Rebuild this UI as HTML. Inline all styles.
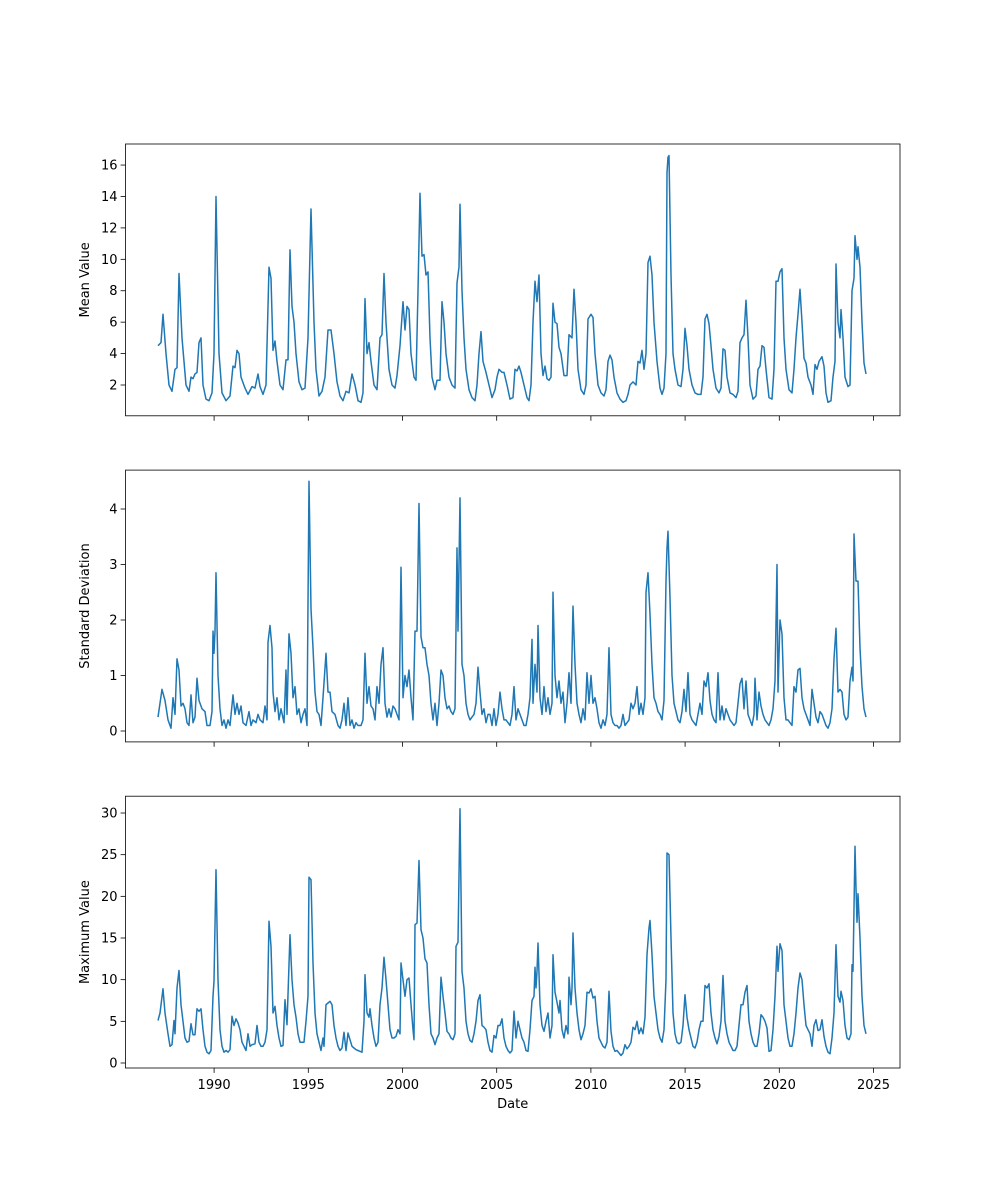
<!DOCTYPE html>
<html><head><meta charset="utf-8"><style>
html,body{margin:0;padding:0;background:#fff;}
svg{display:block;font-family:"DejaVu Sans","Liberation Sans",sans-serif;}
</style></head><body>
<svg id="s" width="1000" height="1200" xmlns="http://www.w3.org/2000/svg"></svg>
<script>
const A=[158,4.5,161,4.7,163,6.5,166,4,169,2,172,1.6,175,3,177,3.1,179,9.1,182,5,186,2,189,1.6,191,2.5,193,2.4,195,2.7,197,2.8,199,4.7,201,5,203,2,206,1.1,209,1,212,1.5,214,4,216,14,219,4,222,1.5,226,1,230,1.3,233,3.2,235,3.1,237,4.2,239,4,241,2.5,245,1.8,248,1.4,252,1.9,255,1.8,258,2.7,260,1.9,263,1.4,266,2,269,9.5,271,8.8,273,4.2,275,4.8,277,3.5,280,2,283,1.7,286,3.6,288,3.6,290,10.6,292,7,294,6,296,4,299,2.2,302,1.7,305,1.8,308,5,311,13.2,314,6,316,3,319,1.3,322,1.6,325,2.5,328,5.5,331,5.5,334,4,337,2.2,340,1.3,343,1,346,1.6,349,1.5,352,2.7,355,2,358,1,361,0.9,363,1.5,365,7.5,367,4,369,4.7,371,3.5,374,2,377,1.7,380,5,382,5.2,384,9.1,386,6,389,3,392,2,395,1.8,397,2.6,400,4.5,403,7.3,405,5.5,407,7,409,6.8,411,4,414,2.5,416,2.3,418,8,420,14.2,422,10.2,424,10.3,426,9,428,9.2,430,5,432,2.5,435,1.7,437,2.3,440,2.3,442,7.3,444,6,446,4,449,2.5,452,2,455,1.8,457,8.5,459,9.5,460,13.5,462,8,464,5,466,3,469,1.7,472,1.2,475,1,477,2,479,4,481,5.4,483,3.5,486,2.8,489,2,492,1.2,495,1.7,497,2.5,499,3,502,2.8,504,2.8,507,2,510,1.1,513,1.2,515,3,517,2.9,519,3.2,521,2.8,524,2,527,1.2,529,1,531,2,533,6,535,8.6,537,7.3,539,9,541,4,543,2.6,545,3.2,547,2.4,549,2.3,551,2.5,553,7.2,555,6,557,5.9,559,4.4,561,4,564,2.6,567,2.6,569,5.2,572,5,574,8.1,576,6,578,3,581,1.7,584,1.4,586,2,588,6.2,591,6.5,593,6.3,595,4,598,2,601,1.5,604,1.3,606,1.7,608,3.5,610,3.9,612,3.6,614,2.5,617,1.5,620,1.1,623,0.9,626,1,628,1.4,630,2,633,2.2,636,2,638,3.5,640,3.4,642,4.2,644,3,646,4,648,9.8,650,10.2,652,9,654,6,657,3.5,660,1.8,662,1.4,664,1.8,666,4,667,15.5,668,16.5,669,16.6,671,9,673,4,675,3,678,2,681,1.9,683,3,685,5.6,687,4.5,689,3,692,2,695,1.5,698,1.4,701,1.4,703,2.5,705,6.2,707,6.5,709,5.9,711,4.5,713,3,716,1.8,719,1.5,721,1.8,723,4.3,725,4.2,727,2.5,730,1.5,733,1.4,736,1.2,738,1.6,740,4.7,742,5,744,5.2,746,7.4,748,5,750,2,753,1.1,756,1.3,758,3,760,3.2,762,4.5,764,4.4,766,3,769,1.2,772,1.1,774,3,776,8.6,778,8.6,780,9.2,782,9.4,784,5,786,3,789,1.7,792,1.5,794,3,796,5,798,6.5,800,8.1,802,6,804,3.7,806,3.4,808,2.5,811,2,813,1.4,815,3.3,817,3,819,3.5,822,3.8,824,3.2,826,1.5,828,0.9,831,1,833,2.5,835,3.5,836,9.7,838,6,840,5,841,6.8,843,5,845,2.5,848,1.9,850,2,852,8,854,8.8,855,11.5,857,10,858,10.8,860,9.5,862,6,864,3.4,866,2.7];
const B=[158,0.25,162,0.75,165,0.55,168,0.2,171,0.05,173,0.6,175,0.3,177,1.3,179,1.1,181,0.45,183,0.5,185,0.4,187,0.15,189,0.1,191,0.65,193,0.15,195,0.25,197,0.95,199,0.55,202,0.4,205,0.35,207,0.1,210,0.1,212,0.35,213,1.8,214,1.4,215,1.8,216,2.85,218,1.0,220,0.4,222,0.1,224,0.2,226,0.05,228,0.2,230,0.1,233,0.65,235,0.3,237,0.5,239,0.3,241,0.45,243,0.15,246,0.1,249,0.35,251,0.1,253,0.2,256,0.15,258,0.3,260,0.2,263,0.15,265,0.45,267,0.2,268,1.6,270,1.9,272,1.5,273,0.7,275,0.35,277,0.6,279,0.2,281,0.4,284,0.15,286,1.1,287,0.3,289,1.75,291,1.4,293,0.6,295,0.8,297,0.3,299,0.4,301,0.15,303,0.3,305,0.4,307,0.1,309,4.5,311,2.2,313,1.5,315,0.7,317,0.35,319,0.3,321,0.1,323,0.6,326,1.4,328,0.7,330,0.7,332,0.35,335,0.3,338,0.1,340,0.05,342,0.2,344,0.5,346,0.1,348,0.6,350,0.1,352,0.2,354,0.05,356,0.15,358,0.1,361,0.1,363,0.2,365,1.4,367,0.5,369,0.8,371,0.45,373,0.4,375,0.2,377,0.8,379,0.5,381,1.2,383,1.5,385,0.5,387,0.25,389,0.4,391,0.25,393,0.45,395,0.4,397,0.3,399,0.2,401,2.95,403,0.6,405,1.0,407,0.8,409,1.1,411,0.6,413,0.2,415,1.8,417,1.8,419,4.1,421,1.7,423,1.5,425,1.5,427,1.2,429,1.0,431,0.5,433,0.2,435,0.5,437,0.1,439,0.5,441,1.1,443,1.0,445,0.6,447,0.4,449,0.45,451,0.35,453,0.3,455,0.4,457,3.3,458,1.8,460,4.2,462,1.2,464,1.0,466,0.5,468,0.3,470,0.2,472,0.25,474,0.3,476,0.5,478,1.15,480,0.7,482,0.3,484,0.4,486,0.15,488,0.3,490,0.3,492,0.1,494,0.4,496,0.1,498,0.3,500,0.7,502,0.4,504,0.2,506,0.2,508,0.15,510,0.1,512,0.3,514,0.8,516,0.2,518,0.4,520,0.3,522,0.2,524,0.1,526,0.1,528,0.3,530,0.6,532,1.65,533,0.5,535,1.2,537,0.7,538,1.9,540,0.6,542,0.3,544,0.8,546,0.35,548,0.6,550,0.3,552,0.5,553,2.5,555,1.0,557,0.6,559,0.9,561,0.5,563,0.7,565,0.15,567,0.5,569,1.05,571,0.5,573,2.25,575,1.2,577,0.5,579,0.3,581,0.15,583,0.4,585,0.2,587,1.05,589,0.5,591,1.0,593,0.5,595,0.6,597,0.4,599,0.15,601,0.05,603,0.2,605,0.1,607,0.3,609,1.5,611,0.3,613,0.15,615,0.1,617,0.1,619,0.05,621,0.1,623,0.3,625,0.1,627,0.15,629,0.2,631,0.5,633,0.4,635,0.5,637,0.8,639,0.3,641,0.5,643,0.3,645,0.6,646,2.5,648,2.85,650,2.1,652,1.2,654,0.6,656,0.5,658,0.35,660,0.3,662,0.2,664,0.55,666,2.7,667,3.3,668,3.6,670,2.4,672,1.0,674,0.5,676,0.35,678,0.2,680,0.15,682,0.35,684,0.75,686,0.35,688,1.05,690,0.3,692,0.2,694,0.15,696,0.1,698,0.3,700,0.5,702,0.3,704,0.9,706,0.8,708,1.05,710,0.55,712,0.3,714,0.2,716,0.15,718,1.05,720,0.2,722,0.45,724,0.2,726,0.4,728,0.3,730,0.2,732,0.15,734,0.1,736,0.15,738,0.5,740,0.85,742,0.95,744,0.4,746,0.9,748,0.3,750,0.2,752,0.1,754,0.3,755,0.95,757,0.2,759,0.7,761,0.45,763,0.3,765,0.2,767,0.15,769,0.1,771,0.2,773,0.4,775,0.9,777,3.0,778,0.7,780,2.0,782,1.75,784,0.6,786,0.2,788,0.2,790,0.15,792,0.1,794,0.8,796,0.7,798,1.1,800,1.13,802,0.6,804,0.4,806,0.3,808,0.2,810,0.1,812,0.75,814,0.5,816,0.25,818,0.15,820,0.35,822,0.3,824,0.2,826,0.1,828,0.05,830,0.15,832,0.4,834,1.3,836,1.85,838,0.7,840,0.75,842,0.7,844,0.3,846,0.2,848,0.25,850,0.9,852,1.15,853,0.9,854,3.55,856,2.7,858,2.7,860,1.5,862,0.8,864,0.4,866,0.25];
const C=[158,5.1,160,6,163,8.9,165,6,168,3.5,170,2,172,2.2,174,5.1,175,3.5,177,9,179,11.1,181,7,183,5,185,3,187,2.5,189,2.6,191,4.7,193,3.4,195,3.4,197,6.5,199,6.2,201,6.5,203,4,205,2,207,1.3,209,1.1,211,1.5,213,8,214,9.8,216,23.2,218,10,220,4,222,2,224,1.3,226,1.5,228,1.3,230,1.6,232,5.6,234,4.5,236,5.3,238,4.8,240,4,242,2.5,244,2,246,1.5,248,3.5,250,2,252,2.2,255,2.3,257,4.5,259,2.5,261,2,263,2,265,2.5,267,4,269,17,271,14,273,6,275,6.8,277,4.5,279,3,281,2,283,2.1,285,7.6,287,4.6,290,15.4,292,10,294,7,296,5.5,298,3.5,300,2.5,302,2.5,304,2.5,306,5,308,8,309,22.3,311,22,313,12,315,6,317,3.5,319,2.5,321,1.5,323,3,324,2,326,7,328,7.2,330,7.4,332,7,334,4.5,336,3,338,2,340,1.5,342,1.8,344,3.7,346,1.5,348,3.6,350,2.8,352,2,354,1.8,356,1.6,358,1.5,360,1.4,362,1.3,364,5,365,10.6,367,6,369,5.5,370,6.5,372,4.5,374,3,376,2,378,2.5,380,7,382,9,384,12.7,386,10,388,7,390,4,392,3,394,3,396,3.2,398,4,400,3.5,401,12,403,10,405,8,407,10,409,10.2,411,7,413,4,414,2.8,415,16.6,417,16.8,419,24.3,421,16,423,15,425,12.5,427,12,429,7,431,3.5,433,3,435,2.2,437,3,439,3.5,441,10.3,443,8,445,6,447,3.8,449,3.5,451,3,453,2.8,455,3.5,456,14,458,14.5,460,30.5,462,11,464,9,466,5,468,3.5,470,2.7,472,2.5,474,3.5,476,5,478,7.5,480,8.2,482,4.5,484,4.3,486,4,488,2.5,490,1.5,492,1.3,494,3.3,496,3,498,4.5,500,4.5,502,5.3,504,3,506,2,508,1.5,510,1.2,512,1.5,514,6.2,516,3,518,5,520,4,522,3,524,2.5,526,1.5,528,1.4,530,4,532,7.5,534,8,535,11.5,536,9,537,11,538,14.4,540,7,542,4.5,544,3.8,546,5,548,6,550,3,552,4.5,553,13,555,8.5,557,7.3,559,6,560,7.5,562,4,564,3,566,4.5,568,3.5,569,10.3,571,7,572,9,573,15.6,575,9,577,6,579,4,581,2.8,583,3.5,585,4.5,587,8.5,589,8.4,591,8.9,593,7.8,595,8,597,5,599,3,601,2.5,603,2,605,1.8,607,2.5,609,8.6,611,3.8,613,2,615,1.4,617,1.5,619,1.2,621,0.9,623,1.2,625,2.2,627,1.7,629,2,631,2.5,633,4.3,635,4,637,5,639,3.5,641,4.2,643,3.5,645,5.5,647,13,649,16.2,650,17.1,652,13,654,8,656,6,658,4,660,3,662,2.5,664,4,666,10,667,25.2,669,25,671,15,673,6,675,3.5,677,2.5,679,2.3,681,2.5,683,4.5,685,8.2,687,5.5,689,4,691,3,693,2,695,1.8,697,2.5,699,4,701,5,703,5,705,9.3,707,9,709,9.5,711,6,713,4,715,3,717,2.3,719,3.2,721,5,723,10.5,725,5,727,3.5,729,2.5,731,2,733,1.5,735,1.5,737,2,739,4.5,741,7,743,7,745,8.5,747,9.3,749,5,751,3.5,753,2.5,755,2,757,2,759,3.5,761,5.8,763,5.5,765,5,767,4.2,769,1.4,771,1.5,773,4,775,8,777,14,778,11,780,14.3,782,13.5,784,7,786,5,788,3,790,2,792,2,794,3.5,796,6,798,9,800,10.8,802,10,804,7,806,4.5,808,4,810,3.5,812,2,814,4.5,816,5.2,818,3.9,820,4,822,5.2,824,3.2,826,2,828,1.3,830,1.1,832,3,834,6,836,14.2,838,8,840,7.3,841,8.6,843,7.5,845,4.5,847,3,849,2.8,851,3.5,852,11.8,853,11,855,26,856,21,857,16.9,858,20.3,860,15,862,8,864,4.5,866,3.5];
const s=document.getElementById('s');let h='';
const L=125.5,R=900;
const axes=[
 {t:144,b:415.8,d:A,f:v=>385-(v-2)*15.71,ticks:[2,4,6,8,10,12,14,16],lab:'Mean Value'},
 {t:470.1,b:741.9,d:B,f:v=>731-v*55.5,ticks:[0,1,2,3,4],lab:'Standard Deviation'},
 {t:796.2,b:1068,d:C,f:v=>1063-v*8.333,ticks:[0,5,10,15,20,25,30],lab:'Maximum Value'}];
axes.forEach((a,i)=>{
 let p=[];for(let k=0;k<a.d.length;k+=2)p.push(a.d[k]+','+a.f(a.d[k+1]).toFixed(1));
 h+=`<polyline points="${p.join(' ')}" fill="none" stroke="#1f77b4" stroke-width="1.5" stroke-linejoin="round"/>`;
 h+=`<rect x="${L}" y="${a.t}" width="${R-L}" height="${a.b-a.t}" fill="none" stroke="#000" stroke-width="0.8"/>`;
 a.ticks.forEach(v=>{const y=a.f(v);h+=`<line x1="${L-4.9}" x2="${L}" y1="${y}" y2="${y}" stroke="#000" stroke-width="0.8"/><text x="${L-8}" y="${y+4.5}" text-anchor="end" font-size="13">${v}</text>`;});
 for(let k=0;k<8;k++){const x=214.1+k*94.2;h+=`<line x1="${x}" x2="${x}" y1="${a.b}" y2="${a.b+4.9}" stroke="#000" stroke-width="0.8"/>`;if(i==2)h+=`<text x="${x}" y="${a.b+21}" text-anchor="middle" font-size="13">${1990+k*5}</text>`;}
 const cy=(a.t+a.b)/2;h+=`<text transform="translate(89,${cy}) rotate(-90)" text-anchor="middle" font-size="13">${a.lab}</text>`;
});
h+=`<text x="512.7" y="1108" text-anchor="middle" font-size="13">Date</text>`;
s.innerHTML=h;
</script>
</body></html>
